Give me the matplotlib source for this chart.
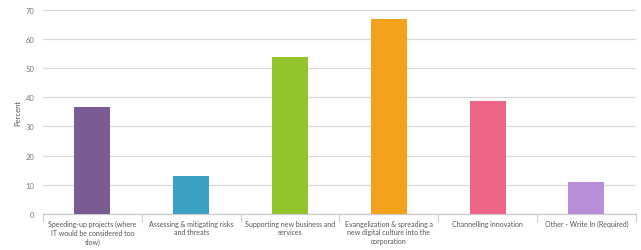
import numpy as np
import matplotlib.pyplot as plt
from matplotlib.ticker import FixedLocator

plt.rcParams['font.family'] = ['Lato', 'DejaVu Sans']

categories = [
    "Speeding-up projects (where\nIT would be considered too\nslow)",
    "Assessing & mitigating risks\nand threats",
    "Supporting new business and\nservices",
    "Evangelization & spreading a\nnew digital culture into the\ncorporation",
    "Channelling innovation",
    "Other - Write In (Required)",
]
percent = [36.7, 13.0, 53.6, 66.6, 38.7, 11.1]
colors = ["#7B5B93", "#3AA0C4", "#93C52A", "#F2A31B", "#EE6588", "#B98ED8"]
yticks = [0, 10, 20, 30, 40, 50, 60, 70]


def main():
    fig = plt.figure(figsize=(6.41, 2.51), dpi=100)
    ax = fig.add_axes([0.067, 0.143, 0.925, 0.815])

    x = np.arange(len(categories))
    ax.bar(x, percent, width=0.365, color=colors, zorder=3)

    ax.set_xlim(-0.5, len(categories) - 0.5)
    ax.set_ylim(0, 70)
    ax.set_yticks(yticks)
    ax.set_xticks(x)
    ax.set_xticklabels(categories, fontsize=5.0, color="#555555", linespacing=1.3)
    ax.xaxis.set_minor_locator(FixedLocator(np.arange(-0.5, len(categories), 1.0)))
    ax.tick_params(axis='x', which='major', length=0, pad=4)
    ax.tick_params(axis='x', which='minor', length=6, color="#CCCCCC", width=0.8)
    ax.tick_params(axis='y', length=0, labelsize=5.5, labelcolor="#777777", pad=6)

    ax.grid(axis='y', color="#D9D9D9", linewidth=0.9, zorder=0)
    for side in ['top', 'right', 'left']:
        ax.spines[side].set_visible(False)
    ax.spines['bottom'].set_color("#CCCCCC")
    ax.spines['bottom'].set_linewidth(0.9)

    ax.set_ylabel("Percent", fontsize=5.5, color="#555555", labelpad=3)

    fig.savefig("out.png", dpi=100)


if __name__ == "__main__":
    main()
